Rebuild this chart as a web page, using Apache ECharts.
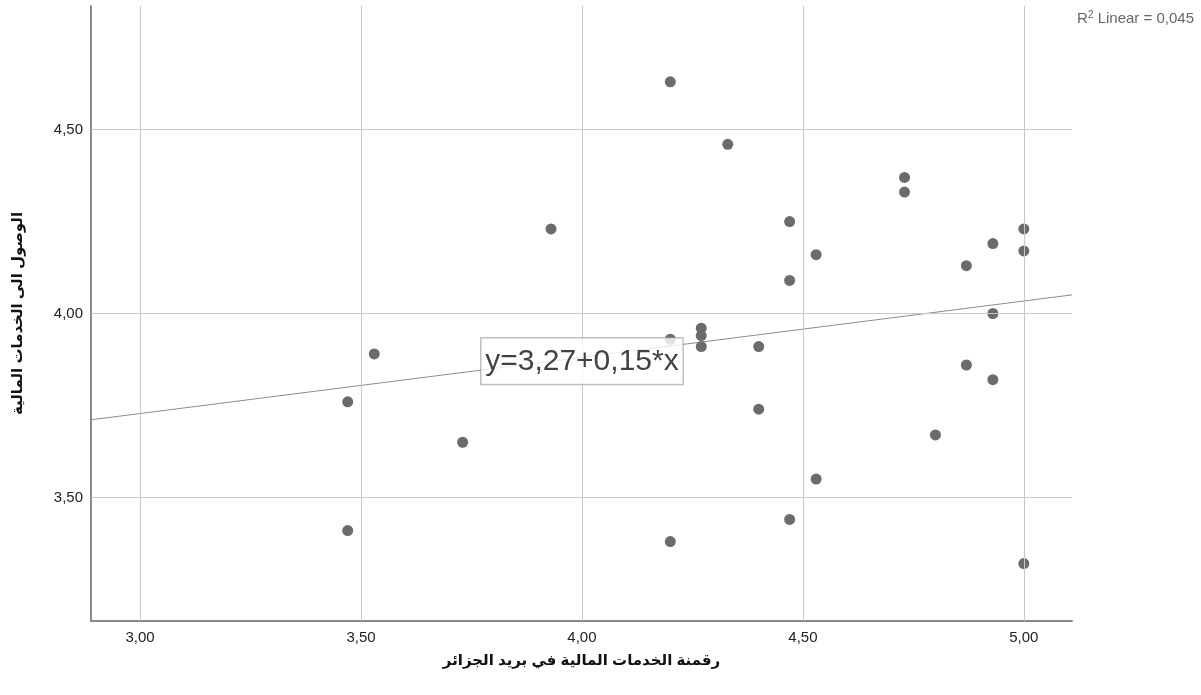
<!DOCTYPE html>
<html><head><meta charset="utf-8">
<script src="https://cdn.jsdelivr.net/npm/echarts@6/dist/echarts.min.js"></script>
<style>html,body{margin:0;padding:0;background:#fff}#c{width:1201px;height:695px}</style>
</head><body><div id="c"></div>
<script>
const xValues = [4.20,4.33,3.93,4.73,4.73,4.47,4.53,4.47,4.93,5.00,5.00,4.87,4.93,4.27,4.27,4.27,4.20,4.40,3.53,3.47,4.40,4.87,4.93,3.73,4.80,4.53,3.47,4.47,4.20,5.00];
const yValues = [4.63,4.46,4.23,4.37,4.33,4.25,4.16,4.09,4.19,4.23,4.17,4.13,4.00,3.96,3.94,3.91,3.93,3.91,3.89,3.76,3.74,3.86,3.82,3.65,3.67,3.55,3.41,3.44,3.38,3.32];
const xTicks = [3.0,3.5,4.0,4.5,5.0];
const yTicks = [3.5,4.0,4.5];
const fitIntercept = 3.269, fitSlope = 0.153;
const xRange = [2.889,5.109], yRange = [3.164,4.836];
const xTitle = 'رقمنة الخدمات المالية في بريد الجزائر';
const yTitle = 'الوصول الى الخدمات المالية';
const fitLabel = 'y=3,27+0,15*x';
const r2Text = '0,045';

const fmt = v => v.toFixed(2).replace('.', ',');
const pts = xValues.map((x,i)=>[x,yValues[i]]);
const fitPts = xRange.map(x=>[x, fitIntercept + fitSlope*x]);
const labelX = 4.0;
const FONT = '"Liberation Sans", Arial, "DejaVu Sans", sans-serif';

const chart = echarts.init(document.getElementById('c'), null, {renderer:'canvas'});
chart.setOption({
  animation:false,
  grid:{left:91,right:129,top:6,bottom:74,containLabel:false,outerBoundsMode:'none'},
  xAxis:{type:'value',min:xRange[0],max:xRange[1],
    axisLine:{show:true,onZero:false,lineStyle:{color:'#8a8a8a',width:2}},
    axisTick:{show:false},
    splitLine:{show:false},
    axisLabel:{customValues:xTicks,formatter:fmt,color:'#222',fontSize:15,fontFamily:FONT,margin:9},
    name:xTitle,nameLocation:'middle',nameGap:32,
    nameTextStyle:{fontSize:15,fontWeight:'bold',color:'#111',fontFamily:FONT}
  },
  yAxis:{type:'value',min:yRange[0],max:yRange[1],
    axisLine:{show:true,onZero:false,lineStyle:{color:'#8a8a8a',width:2}},
    axisTick:{show:false},
    splitLine:{show:false},
    axisLabel:{customValues:yTicks,formatter:fmt,color:'#222',fontSize:15,fontFamily:FONT,margin:8},
    name:yTitle,nameLocation:'middle',nameGap:66,nameRotate:90,
    nameTextStyle:{fontSize:15,fontWeight:'bold',color:'#111',fontFamily:FONT}
  },
  series:[
    {type:'line',data:[],silent:true,z:1,
      markLine:{silent:true,symbol:'none',animation:false,label:{show:false},
        lineStyle:{color:'#c8c8c8',width:1,type:'solid'},
        data:[...xTicks.map(v=>({xAxis:v})),...yTicks.map(v=>({yAxis:v}))]}},
    {type:'line',data:fitPts,showSymbol:false,symbol:'none',silent:true,z:2,
      lineStyle:{color:'#8c8c8c',width:1}},
    {type:'scatter',data:pts,symbolSize:11,z:3,
      itemStyle:{color:'#6b6b6b',opacity:1}},
    {type:'scatter',data:[[labelX, fitIntercept+fitSlope*labelX]],symbolSize:0,z:10,silent:true,
      label:{show:true,position:'inside',offset:[0,4],formatter:fitLabel,fontSize:30,lineHeight:34,color:'#111',fontFamily:FONT,
        backgroundColor:'#fff',borderColor:'#9a9a9a',borderWidth:1,padding:[6,4,6,4]}}
  ],
  graphic:[{type:'text',right:7,top:10,style:{
    text:'{a|R}{s|2}{a| Linear = '+r2Text+'}',
    rich:{a:{fontSize:15,fill:'#666',fontFamily:FONT},s:{fontSize:10,fill:'#666',fontFamily:FONT,verticalAlign:'top',padding:[0,0,7,0]}}
  }}]
});
</script></body></html>
